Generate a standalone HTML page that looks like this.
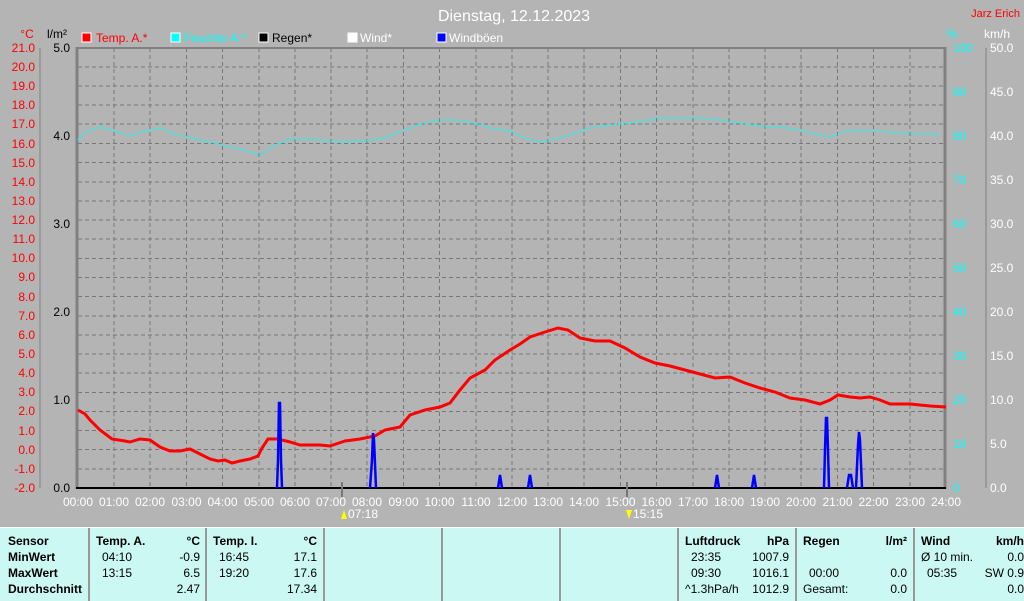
<!DOCTYPE html>
<html><head><meta charset="utf-8"><style>
body{margin:0;width:1024px;height:600px;background:#b4b4b4;overflow:hidden;font-family:"Liberation Sans",Arial,sans-serif}
svg{position:absolute;left:0;top:0}
.tb{position:absolute;left:0;top:527px;width:1024px;height:73px;background:#ccf8f4;border-top:1px solid #fff}
.c{position:absolute;top:0;height:73px;border-left:2px solid #999;font-size:12px;color:#000}
.r{position:absolute;white-space:nowrap}
b{font-weight:bold}
</style></head><body>
<svg width="1024" height="527" font-family="Liberation Sans, Arial, sans-serif" font-size="12">
<text x="514" y="21" fill="#fff" font-size="16" text-anchor="middle">Dienstag, 12.12.2023</text>
<text x="1020" y="17" fill="#f00" text-anchor="end" font-size="11">Jarz Erich</text>
<text x="27" y="38" fill="#f00" text-anchor="middle">°C</text>
<text x="57" y="38" fill="#000" text-anchor="middle">l/m²</text>
<text x="952" y="38" fill="#0ff" text-anchor="middle">%</text>
<text x="997" y="38" fill="#fff" text-anchor="middle">km/h</text>
<rect x="82" y="33" width="9" height="9" fill="#f00" stroke="#fff"/><text x="96" y="42" fill="#f00">Temp. A.*</text>
<rect x="171" y="33" width="9" height="9" fill="#0ff" stroke="#fff"/><text x="184" y="42" fill="#0ff">Feuchte A.*</text>
<rect x="259" y="33" width="9" height="9" fill="#000" stroke="#fff"/><text x="272" y="42" fill="#000">Regen*</text>
<rect x="348" y="33" width="9" height="9" fill="#fff" stroke="#fff"/><text x="360" y="42" fill="#fff">Wind*</text>
<rect x="437" y="33" width="9" height="9" fill="#00f" stroke="#fff"/><text x="449" y="42" fill="#fff">Windböen</text>
<g stroke="#777" stroke-dasharray="4,3" stroke-width="1">
<line x1="78" x2="945" y1="67" y2="67"/><line x1="78" x2="945" y1="86" y2="86"/><line x1="78" x2="945" y1="105" y2="105"/><line x1="78" x2="945" y1="124" y2="124"/><line x1="78" x2="945" y1="143.5" y2="143.5"/><line x1="78" x2="945" y1="162.5" y2="162.5"/><line x1="78" x2="945" y1="182" y2="182"/><line x1="78" x2="945" y1="201" y2="201"/><line x1="78" x2="945" y1="220" y2="220"/><line x1="78" x2="945" y1="239" y2="239"/><line x1="78" x2="945" y1="258.5" y2="258.5"/><line x1="78" x2="945" y1="277.5" y2="277.5"/><line x1="78" x2="945" y1="296.5" y2="296.5"/><line x1="78" x2="945" y1="316" y2="316"/><line x1="78" x2="945" y1="335" y2="335"/><line x1="78" x2="945" y1="354" y2="354"/><line x1="78" x2="945" y1="373" y2="373"/><line x1="78" x2="945" y1="392.5" y2="392.5"/><line x1="78" x2="945" y1="411.5" y2="411.5"/><line x1="78" x2="945" y1="430.5" y2="430.5"/><line x1="78" x2="945" y1="449.5" y2="449.5"/><line x1="78" x2="945" y1="469" y2="469"/>
<line y1="48" y2="488" x1="114" x2="114"/><line y1="48" y2="488" x1="150" x2="150"/><line y1="48" y2="488" x1="186.5" x2="186.5"/><line y1="48" y2="488" x1="222.5" x2="222.5"/><line y1="48" y2="488" x1="259" x2="259"/><line y1="48" y2="488" x1="295" x2="295"/><line y1="48" y2="488" x1="331" x2="331"/><line y1="48" y2="488" x1="367" x2="367"/><line y1="48" y2="488" x1="403.5" x2="403.5"/><line y1="48" y2="488" x1="439.5" x2="439.5"/><line y1="48" y2="488" x1="476" x2="476"/><line y1="48" y2="488" x1="512" x2="512"/><line y1="48" y2="488" x1="548" x2="548"/><line y1="48" y2="488" x1="584" x2="584"/><line y1="48" y2="488" x1="620.5" x2="620.5"/><line y1="48" y2="488" x1="656.5" x2="656.5"/><line y1="48" y2="488" x1="693" x2="693"/><line y1="48" y2="488" x1="729" x2="729"/><line y1="48" y2="488" x1="765" x2="765"/><line y1="48" y2="488" x1="801" x2="801"/><line y1="48" y2="488" x1="837.5" x2="837.5"/><line y1="48" y2="488" x1="873.5" x2="873.5"/><line y1="48" y2="488" x1="910" x2="910"/>
</g>
<line x1="77" x2="945" y1="48" y2="48" stroke="#808080" stroke-width="2"/>
<line x1="77" x2="77" y1="47" y2="489" stroke="#808080" stroke-width="3"/>
<line x1="945" x2="945" y1="47" y2="489" stroke="#808080" stroke-width="3"/>
<line x1="76" x2="946" y1="488" y2="488" stroke="#000" stroke-width="2"/>
<line x1="40" x2="40" y1="48" y2="488" stroke="#808080"/>
<line x1="986" x2="986" y1="48" y2="488" stroke="#808080"/>
<g fill="#f00" text-anchor="end">
<text x="35" y="52">21.0</text><text x="35" y="71">20.0</text><text x="35" y="90">19.0</text><text x="35" y="109">18.0</text><text x="35" y="128">17.0</text><text x="35" y="148">16.0</text><text x="35" y="167">15.0</text><text x="35" y="186">14.0</text><text x="35" y="205">13.0</text><text x="35" y="224">12.0</text><text x="35" y="243">11.0</text><text x="35" y="262">10.0</text><text x="35" y="281">9.0</text><text x="35" y="301">8.0</text><text x="35" y="320">7.0</text><text x="35" y="339">6.0</text><text x="35" y="358">5.0</text><text x="35" y="377">4.0</text><text x="35" y="396">3.0</text><text x="35" y="415">2.0</text><text x="35" y="435">1.0</text><text x="35" y="454">0.0</text><text x="35" y="473">-1.0</text><text x="35" y="492">-2.0</text>
</g>
<g fill="#000" text-anchor="end">
<text x="70" y="52">5.0</text><text x="70" y="140">4.0</text><text x="70" y="228">3.0</text><text x="70" y="316">2.0</text><text x="70" y="404">1.0</text><text x="70" y="492">0.0</text>
</g>
<g fill="#0ff" text-anchor="start">
<text x="953" y="52">100</text><text x="953" y="96">90</text><text x="953" y="140">80</text><text x="953" y="184">70</text><text x="953" y="228">60</text><text x="953" y="272">50</text><text x="953" y="316">40</text><text x="953" y="360">30</text><text x="953" y="404">20</text><text x="953" y="448">10</text><text x="953" y="492">0</text>
</g>
<g fill="#fff">
<text x="990" y="52">50.0</text><text x="990" y="96">45.0</text><text x="990" y="140">40.0</text><text x="990" y="184">35.0</text><text x="990" y="228">30.0</text><text x="990" y="272">25.0</text><text x="990" y="316">20.0</text><text x="990" y="360">15.0</text><text x="990" y="404">10.0</text><text x="990" y="448">5.0</text><text x="990" y="492">0.0</text>
</g>
<g fill="#fff" text-anchor="middle">
<text x="78" y="506">00:00</text><text x="114" y="506">01:00</text><text x="150" y="506">02:00</text><text x="186.5" y="506">03:00</text><text x="222.5" y="506">04:00</text><text x="259" y="506">05:00</text><text x="295" y="506">06:00</text><text x="331" y="506">07:00</text><text x="367" y="506">08:00</text><text x="403.5" y="506">09:00</text><text x="439.5" y="506">10:00</text><text x="476" y="506">11:00</text><text x="512" y="506">12:00</text><text x="548" y="506">13:00</text><text x="584" y="506">14:00</text><text x="620.5" y="506">15:00</text><text x="656.5" y="506">16:00</text><text x="693" y="506">17:00</text><text x="729" y="506">18:00</text><text x="765" y="506">19:00</text><text x="801" y="506">20:00</text><text x="837.5" y="506">21:00</text><text x="873.5" y="506">22:00</text><text x="910" y="506">23:00</text><text x="946" y="506">24:00</text>
</g>
<line x1="342" x2="342" y1="482" y2="497" stroke="#777" stroke-width="2"/>
<line x1="627" x2="627" y1="482" y2="497" stroke="#777" stroke-width="2"/>
<polygon points="344,510 347,519 341,519" fill="#ff0"/><text x="348" y="518" fill="#fff">07:18</text>
<polygon points="629,519 632,510 626,510" fill="#ff0"/><text x="633" y="518" fill="#fff">15:15</text>
<polyline fill="none" stroke="#0ff" stroke-width="1.5" stroke-dasharray="2,2" points="78,140 85,132 100,127 115,131 130,136 145,131 160,128 175,134 200,140 215,143 230,147 245,150 260,155 275,145 290,139 310,139 340,142 365,141 385,138 405,130 420,124 440,120 455,120 470,122 490,128 510,131 525,138 540,142 555,139 570,135 590,128 610,125 630,123 650,120 660,118 700,118 720,120 740,123 760,126 780,127 800,130 820,135 830,137 845,131 860,130 880,131 900,133 920,134 940,134"/>
<polyline fill="none" stroke="#f00" stroke-width="3" points="78,410 85,414 90,420 100,430 112,439 125,441 130,442 140,439 150,440 160,447 170,451 180,451 190,449 200,454 210,459 218,461 225,460 232,463 240,461 250,459 258,456 262,448 268,439 278,439 290,442 300,445 320,445 330,446 345,441 360,439 375,436 385,430 400,427 410,415 425,410 440,407 450,403 460,390 470,378 485,370 495,360 510,350 520,344 530,337 545,332 558,328 568,330 580,338 595,341 610,341 625,348 640,357 655,363 670,366 685,370 700,374 715,378 730,377 745,383 760,388 775,392 790,398 805,400 820,404 830,400 838,395 850,397 860,398 870,397 880,400 890,404 910,404 930,406 946,407"/>
<g fill="none" stroke="#00f" stroke-width="2.5">
<polyline points="277,488 278,460 279,403 280,403 281,460 282,488"/>
<polyline points="370,488 372,460 373,433 374,440 376,488"/>
<polyline points="498,488 500,475 502,488"/>
<polyline points="528,488 530,475 532,488"/>
<polyline points="715,488 717,475 719,488"/>
<polyline points="752,488 754,475 756,488"/>
<polyline points="824,488 825,450 826,418 827,418 828,450 829,488"/>
<polyline points="847,488 849,475 851,475 853,488"/>
<polyline points="856,488 858,445 859,432 860,440 862,488"/>
</g>
</svg>
<div class="tb">
<div class="c" style="left:0;width:88px;border-left:none"><div class="r" style="left:8px;top:6px"><b>Sensor</b></div><div class="r" style="left:8px;top:22px"><b>MinWert</b></div><div class="r" style="left:8px;top:38px"><b>MaxWert</b></div><div class="r" style="left:8px;top:54px"><b>Durchschnitt</b></div></div>
<div class="c" style="left:88px;width:116px"><div class="r" style="left:6px;top:6px"><b>Temp. A.</b></div><div class="r" style="right:6px;top:6px"><b>°C</b></div><div class="r" style="left:12px;top:22px">04:10</div><div class="r" style="right:6px;top:22px">-0.9</div><div class="r" style="left:12px;top:38px">13:15</div><div class="r" style="right:6px;top:38px">6.5</div><div class="r" style="right:6px;top:54px">2.47</div></div>
<div class="c" style="left:205px;width:116px"><div class="r" style="left:6px;top:6px"><b>Temp. I.</b></div><div class="r" style="right:6px;top:6px"><b>°C</b></div><div class="r" style="left:12px;top:22px">16:45</div><div class="r" style="right:6px;top:22px">17.1</div><div class="r" style="left:12px;top:38px">19:20</div><div class="r" style="right:6px;top:38px">17.6</div><div class="r" style="right:6px;top:54px">17.34</div></div>
<div class="c" style="left:323px;width:116px"></div>
<div class="c" style="left:441px;width:116px"></div>
<div class="c" style="left:559px;width:116px"></div>
<div class="c" style="left:677px;width:116px"><div class="r" style="left:6px;top:6px"><b>Luftdruck</b></div><div class="r" style="right:6px;top:6px"><b>hPa</b></div><div class="r" style="left:12px;top:22px">23:35</div><div class="r" style="right:6px;top:22px">1007.9</div><div class="r" style="left:12px;top:38px">09:30</div><div class="r" style="right:6px;top:38px">1016.1</div><div class="r" style="left:6px;top:54px">^1.3hPa/h</div><div class="r" style="right:6px;top:54px">1012.9</div></div>
<div class="c" style="left:795px;width:116px"><div class="r" style="left:6px;top:6px"><b>Regen</b></div><div class="r" style="right:6px;top:6px"><b>l/m²</b></div><div class="r" style="left:12px;top:38px">00:00</div><div class="r" style="right:6px;top:38px">0.0</div><div class="r" style="left:6px;top:54px">Gesamt:</div><div class="r" style="right:6px;top:54px">0.0</div></div>
<div class="c" style="left:913px;width:111px"><div class="r" style="left:6px;top:6px"><b>Wind</b></div><div class="r" style="right:2px;top:6px"><b>km/h</b></div><div class="r" style="left:6px;top:22px">Ø 10 min.</div><div class="r" style="right:2px;top:22px">0.0</div><div class="r" style="left:12px;top:38px">05:35</div><div class="r" style="right:2px;top:38px">SW 0.9</div><div class="r" style="right:2px;top:54px">0.0</div></div>
</div>
</body></html>
